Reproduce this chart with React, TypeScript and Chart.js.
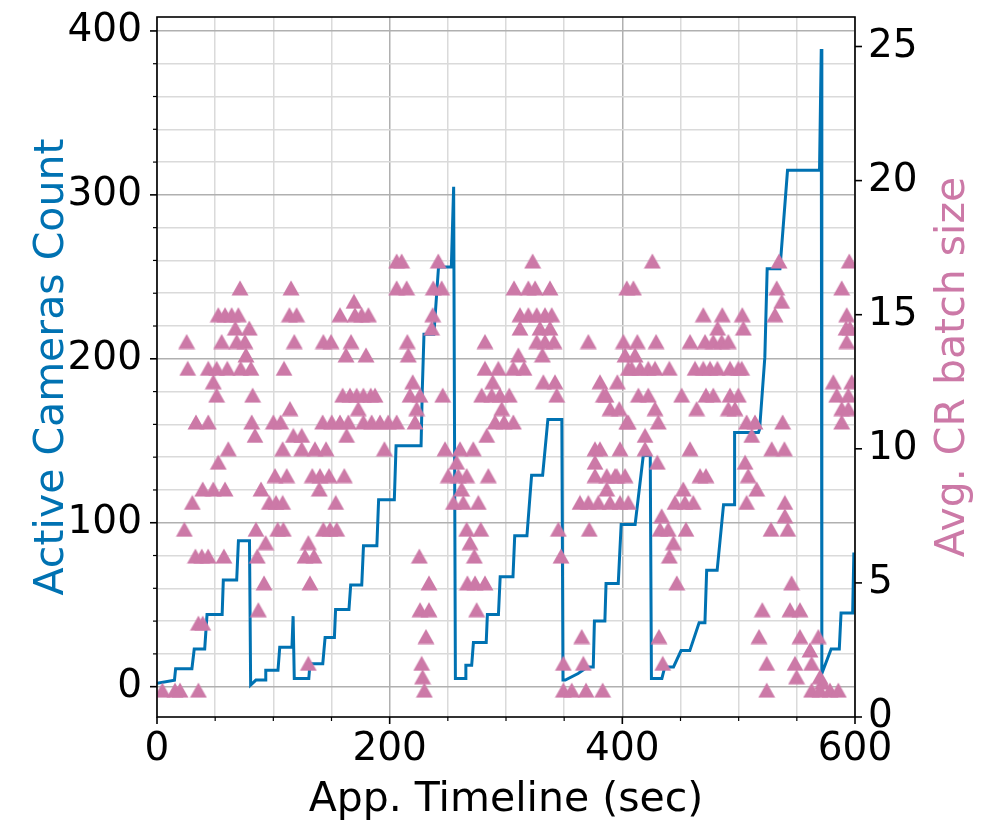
import { useEffect, useRef } from "react";
import { Chart, registerables } from "chart.js";

Chart.register(...registerables);

// Active camera count over the application timeline (step-like trace)
const timelineSec = [
  0, 15, 16, 30, 32, 41, 43, 56, 57, 68.5, 70, 79.5, 80.5, 85, 93, 93.5, 104, 105.5, 116, 117,
  118, 130.5, 131.5, 142.5, 144.5, 152.5, 153.5, 165, 166.5, 176, 177.5, 189, 190.5, 204, 205.5,
  227, 228, 229.5, 238, 242, 253, 255, 256.5, 265, 265.5, 270.5, 272, 283, 284, 293.5, 295, 306,
  307.5, 318, 322, 331.5, 336, 348, 349, 351, 362, 370, 375, 376, 385, 386, 396.5, 399, 411, 418,
  424, 425, 434, 436.5, 444, 450.5, 458, 466, 471, 472.5, 481.5, 487, 496, 496.5, 517, 518, 522.5,
  524.5, 535.5, 542, 569.5, 571, 571.5, 579.5, 586.5, 588, 598, 599, 600,
];
const activeCameras = [
  2, 4, 11, 11, 23, 23, 44, 44, 65, 65, 89, 89, 1, 4, 4, 10, 10, 24, 24, 43,
  5, 5, 14, 14, 30, 30, 47, 47, 62, 62, 86, 86, 114, 114, 147,
  147, 180, 215, 215, 256, 256, 305, 5, 5, 13, 13, 27, 27, 44, 44, 67, 67,
  92, 92, 129, 129, 163, 163, 4, 4, 8, 12, 12, 40, 40, 63, 63, 99, 99, 141,
  141, 5, 5, 12, 12, 22, 22, 39, 39, 71, 71, 111, 111, 155, 155, 157, 201,
  255, 255, 315, 315, 389, 8, 23, 23, 45, 45, 81, 81,
];

// Average CR batch size samples (time in seconds, size)
const batchTimeSec = [
  206, 210.3, 241.8, 322.9, 425.8, 534.7, 595.1,
  71.4, 115.2, 206, 214.6, 237.5, 244.7, 306.9, 319.2, 325, 337.8, 403.8, 409.5, 532.7, 588.6,
  169.3, 537,
  52.7, 58.5, 64.2, 69.9, 113.8, 120, 157.3, 170.2, 175.9, 181.7, 237, 312, 319.2, 326.4, 333.5, 339.3, 469.6, 485.9, 503.1, 531.2, 592.9,
  67.3, 79.3, 236.1, 312, 329.2, 337.8, 481.9, 504, 592.3, 595.7,
  25.5, 55.6, 68.5, 75.6, 118, 143, 149.6, 166.8, 215.2, 281.9, 326.4, 333.5, 341.3, 370.8, 400.9, 412.9, 429, 458.2, 471.1, 478.2, 485.4, 491.1, 592.9,
  76.5, 162.5, 179.7, 216, 310.6, 331.3, 402.3, 410.9,
  26.4, 44.1, 51.3, 60.4, 71.9, 80.8, 109.2, 281.9, 293.4, 306.3, 315.5, 405.1, 408, 415.2, 422.3, 428.1, 440.4, 462.5, 469.6, 475.4, 481.7, 492.6, 499.7, 502.6,
  48.4, 219.8, 288.6, 332.1, 342.1, 380.8, 395.7, 581.4, 597.2,
  51.3, 82.2, 159.6, 165.9, 171.6, 177.4, 183.7, 187.4, 217.5, 226.1, 245.6, 279.1, 287.7, 294.8, 302.8, 343.6, 383.7, 386, 413.8, 422.3, 451, 471.9, 478.2, 492.6, 499.7, 584.3, 594.3,
  114.3, 173, 223.2, 296.3, 389.4, 397.4, 428.1, 463.9, 491.1, 496.8, 588.6, 594.3,
  33.5, 44.1, 81.4, 100, 106.3, 142.4, 150.2, 157.3, 164.5, 177.4, 184.5, 191.7, 198.8, 206, 221.8, 290.6, 298.3, 306.3, 403.8, 405.1, 430.9, 506.8, 514, 537.8, 588.6,
  84.2, 117.2, 124.4, 163, 283.4, 419.5, 511.2,
  61.3, 108, 124.4, 135.8, 145.3, 195.5, 247.6, 260.5, 271.9, 376.5, 380.8, 398, 419.5, 458.2, 528.4, 539.3,
  52.7, 257.6, 376.5, 430.1, 505.5,
  101.4, 111.5, 133.5, 140.1, 147.9, 161, 250.4, 259, 266.2, 284.8, 376.5, 386.6, 393.7, 395.2, 402.3, 466.8, 471.9, 508.2,
  39.3, 48.4, 58.5, 89.4, 139.5, 261.9, 386.6, 452.4, 515.5,
  30.4, 96.5, 102.3, 108, 153.6, 254.8, 263.3, 276.2, 363.6, 370.8, 379.4, 389.4, 398, 405.1, 445.2, 453.8, 461, 506.8, 539.7,
  433.8, 539.7,
  23.5, 85.1, 103.7, 108.6, 143, 148.7, 154.5, 266.2, 278.3, 345, 371.6, 432.4, 439.5, 454.7, 527.8, 542.2,
  93.4, 130.1, 269.1, 443.9,
  33, 38.5, 44, 57.5, 86.2, 127.2, 135, 225.5, 272.8, 347.3, 440.4,
  92, 131.5, 233.8, 266.8, 273.4, 281.9, 446.8, 545.5,
  87.1, 226.1, 233.8, 274.8, 520.3, 544.1, 552.7,
  35.6, 39.3,
  231.2, 365.1, 431.5, 517.5, 552.7, 568.5,
  561.3,
  130.1, 227.5, 349.3, 366.5, 434.7, 524.1, 548.4, 562.7,
  228.3, 549.8, 569.9,
  572,
  4.6, 15.5, 19.8, 35.6, 229.8, 349.3, 356.5, 368.8, 383.1, 524.1, 562.7, 569.9, 578.5, 585.7,
];
const batchSize = [
  17, 17, 17, 17, 17, 17, 17,
  16, 16, 16, 16, 16, 16, 16, 16, 16, 16, 16, 16, 16, 16,
  15.5, 15.5,
  15, 15, 15, 15, 15, 15, 15, 15, 15, 15, 15, 15, 15, 15, 15, 15, 15, 15, 15, 15, 15,
  14.5, 14.5, 14.5, 14.5, 14.5, 14.5, 14.5, 14.5, 14.5, 14.5,
  14, 14, 14, 14, 14, 14, 14, 14, 14, 14, 14, 14, 14, 14, 14, 14, 14, 14, 14, 14, 14, 14, 14,
  13.5, 13.5, 13.5, 13.5, 13.5, 13.5, 13.5, 13.5,
  13, 13, 13, 13, 13, 13, 13, 13, 13, 13, 13, 13, 13, 13, 13, 13, 13, 13, 13, 13, 13, 13, 13, 13,
  12.5, 12.5, 12.5, 12.5, 12.5, 12.5, 12.5, 12.5, 12.5,
  12, 12, 12, 12, 12, 12, 12, 12, 12, 12, 12, 12, 12, 12, 12, 12, 12, 12, 12, 12, 12, 12, 12, 12, 12, 12, 12,
  11.5, 11.5, 11.5, 11.5, 11.5, 11.5, 11.5, 11.5, 11.5, 11.5, 11.5, 11.5,
  11, 11, 11, 11, 11, 11, 11, 11, 11, 11, 11, 11, 11, 11, 11, 11, 11, 11, 11, 11, 11, 11, 11, 11, 11,
  10.5, 10.5, 10.5, 10.5, 10.5, 10.5, 10.5,
  10, 10, 10, 10, 10, 10, 10, 10, 10, 10, 10, 10, 10, 10, 10, 10,
  9.5, 9.5, 9.5, 9.5, 9.5,
  9, 9, 9, 9, 9, 9, 9, 9, 9, 9, 9, 9, 9, 9, 9, 9, 9, 9,
  8.5, 8.5, 8.5, 8.5, 8.5, 8.5, 8.5, 8.5, 8.5,
  8, 8, 8, 8, 8, 8, 8, 8, 8, 8, 8, 8, 8, 8, 8, 8, 8, 8, 8,
  7.5, 7.5,
  7, 7, 7, 7, 7, 7, 7, 7, 7, 7, 7, 7, 7, 7, 7, 7,
  6.5, 6.5, 6.5, 6.5,
  6, 6, 6, 6, 6, 6, 6, 6, 6, 6, 6,
  5, 5, 5, 5, 5, 5, 5, 5,
  4, 4, 4, 4, 4, 4, 4,
  3.5, 3.5,
  3, 3, 3, 3, 3, 3,
  2.5,
  2, 2, 2, 2, 2, 2, 2, 2,
  1.5, 1.5, 1.5,
  1.3,
  1, 1, 1, 1, 1, 1, 1, 1, 1, 1, 1, 1, 1, 1,
];

// Axis ticks (minor and labelled)
const xTickValues = [0, 50, 100, 150, 200, 250, 300, 350, 400, 450, 500, 550, 600];
const xLabelValues = [0, 200, 400, 600];
const cameraTickValues = [
  0, 20, 40, 60, 80, 100, 120, 140, 160, 180, 200, 220, 240, 260, 280, 300, 320, 340, 360, 380, 400,
];
const cameraLabelValues = [0, 100, 200, 300, 400];
const batchTickValues = [0, 5, 10, 15, 20, 25];

const xTitle = "App. Timeline (sec)";
const cameraTitle = "Active Cameras Count";
const batchTitle = "Avg. CR batch size";

const BLUE = "#0072B2";
const PINK = "#CC79A7";
const GRID_MAJOR = "#b0b0b0";
const GRID_MINOR = "#dadada";
const FONT = "'DejaVu Sans', sans-serif";
const TICK_SIZE = 39;
const TITLE_SIZE = 41;

const axesFrame = {
  id: "axesFrame",
  afterDraw(chart: any) {
    const { ctx, chartArea: a, scales } = chart;
    ctx.save();
    ctx.strokeStyle = "#000";
    const hTick = (x0: number, x1: number, y: number, w: number) => {
      ctx.lineWidth = w;
      ctx.beginPath();
      ctx.moveTo(x0, y);
      ctx.lineTo(x1, y);
      ctx.stroke();
    };
    for (const v of cameraTickValues) {
      const major = cameraLabelValues.includes(v);
      hTick(a.left - (major ? 7 : 4), a.left, scales.y.getPixelForValue(v), major ? 1.6 : 1.2);
    }
    for (const v of batchTickValues) {
      hTick(a.right, a.right + 7, scales.y1.getPixelForValue(v), 1.6);
    }
    for (const v of xTickValues) {
      const major = xLabelValues.includes(v);
      const x = scales.x.getPixelForValue(v);
      ctx.lineWidth = major ? 1.6 : 1.2;
      ctx.beginPath();
      ctx.moveTo(x, a.bottom);
      ctx.lineTo(x, a.bottom + (major ? 7 : 4));
      ctx.stroke();
    }
    ctx.lineWidth = 1.6;
    ctx.strokeRect(a.left, a.top, a.right - a.left, a.bottom - a.top);

    // right-hand axis title, reading bottom to top
    ctx.translate(a.right + 98, (a.top + a.bottom) / 2);
    ctx.rotate(-Math.PI / 2);
    ctx.fillStyle = PINK;
    ctx.font = `${TITLE_SIZE}px ${FONT}`;
    ctx.textAlign = "center";
    ctx.textBaseline = "middle";
    ctx.fillText(batchTitle, 0, 0);
    ctx.restore();
  },
};

function triangleMarker(): HTMLCanvasElement {
  const c = document.createElement("canvas");
  c.width = 18;
  c.height = 16;
  const g = c.getContext("2d")!;
  g.fillStyle = PINK;
  g.beginPath();
  g.moveTo(9, 0.5);
  g.lineTo(17.5, 15.5);
  g.lineTo(0.5, 15.5);
  g.closePath();
  g.fill();
  return c;
}

export default function App() {
  const canvasRef = useRef<HTMLCanvasElement | null>(null);

  useEffect(() => {
    document.body.style.margin = "0";
    const canvas = canvasRef.current;
    if (!canvas) return;

    const cameraPoints = timelineSec.map((t, i) => ({ x: t, y: activeCameras[i] }));
    const n = Math.min(batchTimeSec.length, batchSize.length);
    const batchPoints = batchTimeSec.slice(0, n).map((t, i) => ({ x: t, y: batchSize[i] }));
    const marker = triangleMarker();

    const chart = new Chart(canvas, {
      type: "scatter",
      data: {
        datasets: [
          {
            type: "scatter",
            label: batchTitle,
            data: batchPoints,
            yAxisID: "y1",
            pointStyle: marker as any,
            pointRadius: 8,
            pointHoverRadius: 8,
            backgroundColor: PINK,
            borderColor: PINK,
            order: 0,
          },
          {
            type: "line",
            label: cameraTitle,
            data: cameraPoints,
            yAxisID: "y",
            borderColor: BLUE,
            borderWidth: 3,
            pointRadius: 0,
            tension: 0,
            fill: false,
            showLine: true,
            order: 1,
          } as any,
        ],
      },
      options: {
        animation: false,
        responsive: false,
        devicePixelRatio: 1,
        layout: { padding: { top: 17, left: 0, right: 0, bottom: 0 } },
        plugins: { legend: { display: false }, tooltip: { enabled: false } },
        scales: {
          x: {
            type: "linear",
            min: 0,
            max: 600,
            afterBuildTicks: (s: any) => {
              s.ticks = xTickValues.map((v) => ({ value: v }));
            },
            afterFit: (s: any) => {
              s.height = 119;
              s.paddingLeft = 0;
              s.paddingRight = 0;
            },
            ticks: {
              autoSkip: false,
              maxRotation: 0,
              padding: 9,
              color: "#000",
              font: { family: FONT, size: TICK_SIZE },
              callback: (v: any) => (xLabelValues.includes(Number(v)) ? String(v) : ""),
            },
            grid: {
              drawTicks: false,
              lineWidth: 1.5,
              color: (c: any) => (xLabelValues.includes(c.tick?.value) ? GRID_MAJOR : GRID_MINOR),
            },
            border: { display: false },
            title: {
              display: true,
              text: xTitle,
              color: "#000",
              font: { family: FONT, size: TITLE_SIZE },
              padding: { top: 0, bottom: 11 },
            },
          },
          y: {
            type: "linear",
            position: "left",
            min: -18.5,
            max: 408.5,
            afterBuildTicks: (s: any) => {
              s.ticks = cameraTickValues.map((v) => ({ value: v }));
            },
            afterFit: (s: any) => {
              s.width = 157;
              s.paddingTop = 0;
              s.paddingBottom = 0;
            },
            ticks: {
              autoSkip: false,
              padding: 15,
              color: "#000",
              font: { family: FONT, size: TICK_SIZE },
              callback: (v: any) => (cameraLabelValues.includes(Number(v)) ? String(v) : ""),
            },
            grid: {
              drawTicks: false,
              lineWidth: 1.5,
              color: (c: any) => (cameraLabelValues.includes(c.tick?.value) ? GRID_MAJOR : GRID_MINOR),
            },
            border: { display: false },
            title: {
              display: true,
              text: cameraTitle,
              color: BLUE,
              font: { family: FONT, size: TITLE_SIZE },
              padding: { top: 28, bottom: 0 },
            },
          },
          y1: {
            type: "linear",
            position: "right",
            min: 0,
            max: 26.1,
            afterBuildTicks: (s: any) => {
              s.ticks = batchTickValues.map((v) => ({ value: v }));
            },
            afterFit: (s: any) => {
              s.width = 132;
              s.paddingTop = 0;
              s.paddingBottom = 0;
            },
            ticks: {
              autoSkip: false,
              padding: 13,
              color: "#000",
              font: { family: FONT, size: TICK_SIZE },
            },
            grid: { display: false, drawTicks: false },
            border: { display: false },
          },
        },
      },
      plugins: [axesFrame],
    });

    return () => chart.destroy();
  }, []);

  return (
    <div style={{ width: 987, height: 836 }}>
      <canvas ref={canvasRef} width={987} height={836} style={{ display: "block" }} />
    </div>
  );
}
